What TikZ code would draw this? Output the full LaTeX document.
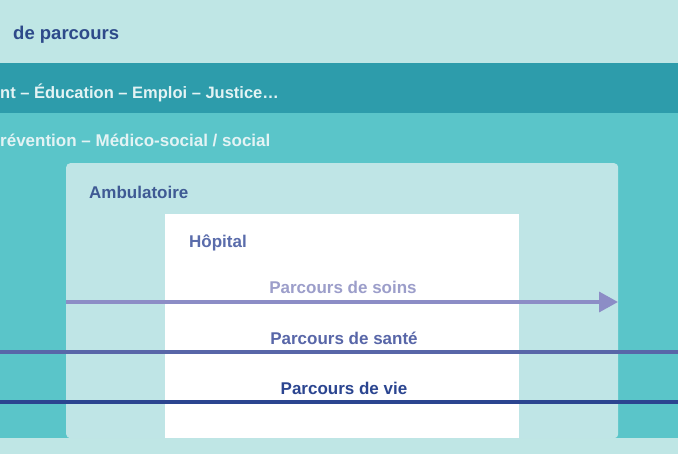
\documentclass[tikz,border=0pt]{standalone}
\usepackage{fontspec}
\setmainfont{Liberation Sans}
\usetikzlibrary{arrows.meta}
\usetikzlibrary{positioning}

\definecolor{paleteal}{HTML}{BFE6E5}
\definecolor{darkteal}{HTML}{2D9CAB}
\definecolor{midteal}{HTML}{5AC5C9}
\definecolor{ambfill}{HTML}{BFE5E6}
\definecolor{titleblue}{HTML}{2E4A8A}
\definecolor{bandtext}{HTML}{E3F3F4}
\definecolor{ambblue}{HTML}{3F5A94}
\definecolor{hopblue}{HTML}{5A6CAB}
\definecolor{soinscol}{HTML}{8C8DC6}
\definecolor{soinstext}{HTML}{9C9ECA}
\definecolor{santecol}{HTML}{5866A8}
\definecolor{viecol}{HTML}{2B4590}

\begin{document}
\begin{tikzpicture}[x=1pt,y=-1pt]
  \tikzset{band/.style = {shape=rectangle,inner sep=0pt,anchor=north west}}
  \tikzset{caption/.style = {anchor=base west,inner sep=0pt,font=\fontsize{17}{20}\selectfont\bfseries}}
  \tikzset{tag/.style = {anchor=base,inner sep=0pt,font=\fontsize{17}{20}\selectfont\bfseries}}
  \tikzset{trail/.style = {line width=3.5pt}}

  \useasboundingbox (0,0) rectangle (678,454);
  \fill[paleteal] (0,0) rectangle (678,454);

  \node[band, fill=darkteal, minimum width=678pt, minimum height=50pt] (social) at (0,63) {};
  \node[band, fill=midteal, minimum width=678pt, minimum height=325pt] (prev) at (0,113) {};
  \node[band, fill=ambfill, rounded corners=4pt, minimum width=552pt, minimum height=275pt] (amb) at (66,163) {};
  \node[band, fill=white, minimum width=354pt, minimum height=224pt] (hop) at (165,214) {};

  \node[caption, text=titleblue, font=\fontsize{18.5}{22}\selectfont\bfseries] (title) at (13,40) {de parcours};
  \node[caption, text=bandtext, font=\fontsize{16.5}{20}\selectfont\bfseries] (socialtxt) at (0,99) {nt – Éducation – Emploi – Justice…};
  \node[caption, text=bandtext] (prevtxt) at (0,147) {révention – Médico-social / social};
  \node[caption, text=ambblue] (ambtxt) at (89,199) {Ambulatoire};
  \node[caption, text=hopblue] (hoptxt) at (189,248) {Hôpital};

  \node[tag, text=soinstext] (soins) at (343,294) {Parcours de soins};
  \node[tag, text=santecol] (sante) at (344,345) {Parcours de santé};
  \node[tag, text=viecol] (vie) at (344,395) {Parcours de vie};

  \coordinate (soinsA) at (66,302);
  \coordinate (soinsB) at (618,302);
  \coordinate (santeA) at (0,352);
  \coordinate (santeB) at (678,352);
  \coordinate (vieA) at (0,402);
  \coordinate (vieB) at (678,402);

  \draw[trail, soinscol, -{Triangle[length=19pt,width=20pt]}] (soinsA) -- (soinsB);
  \draw[trail, santecol] (santeA) -- (santeB);
  \draw[trail, viecol] (vieA) -- (vieB);
\end{tikzpicture}
\end{document}
